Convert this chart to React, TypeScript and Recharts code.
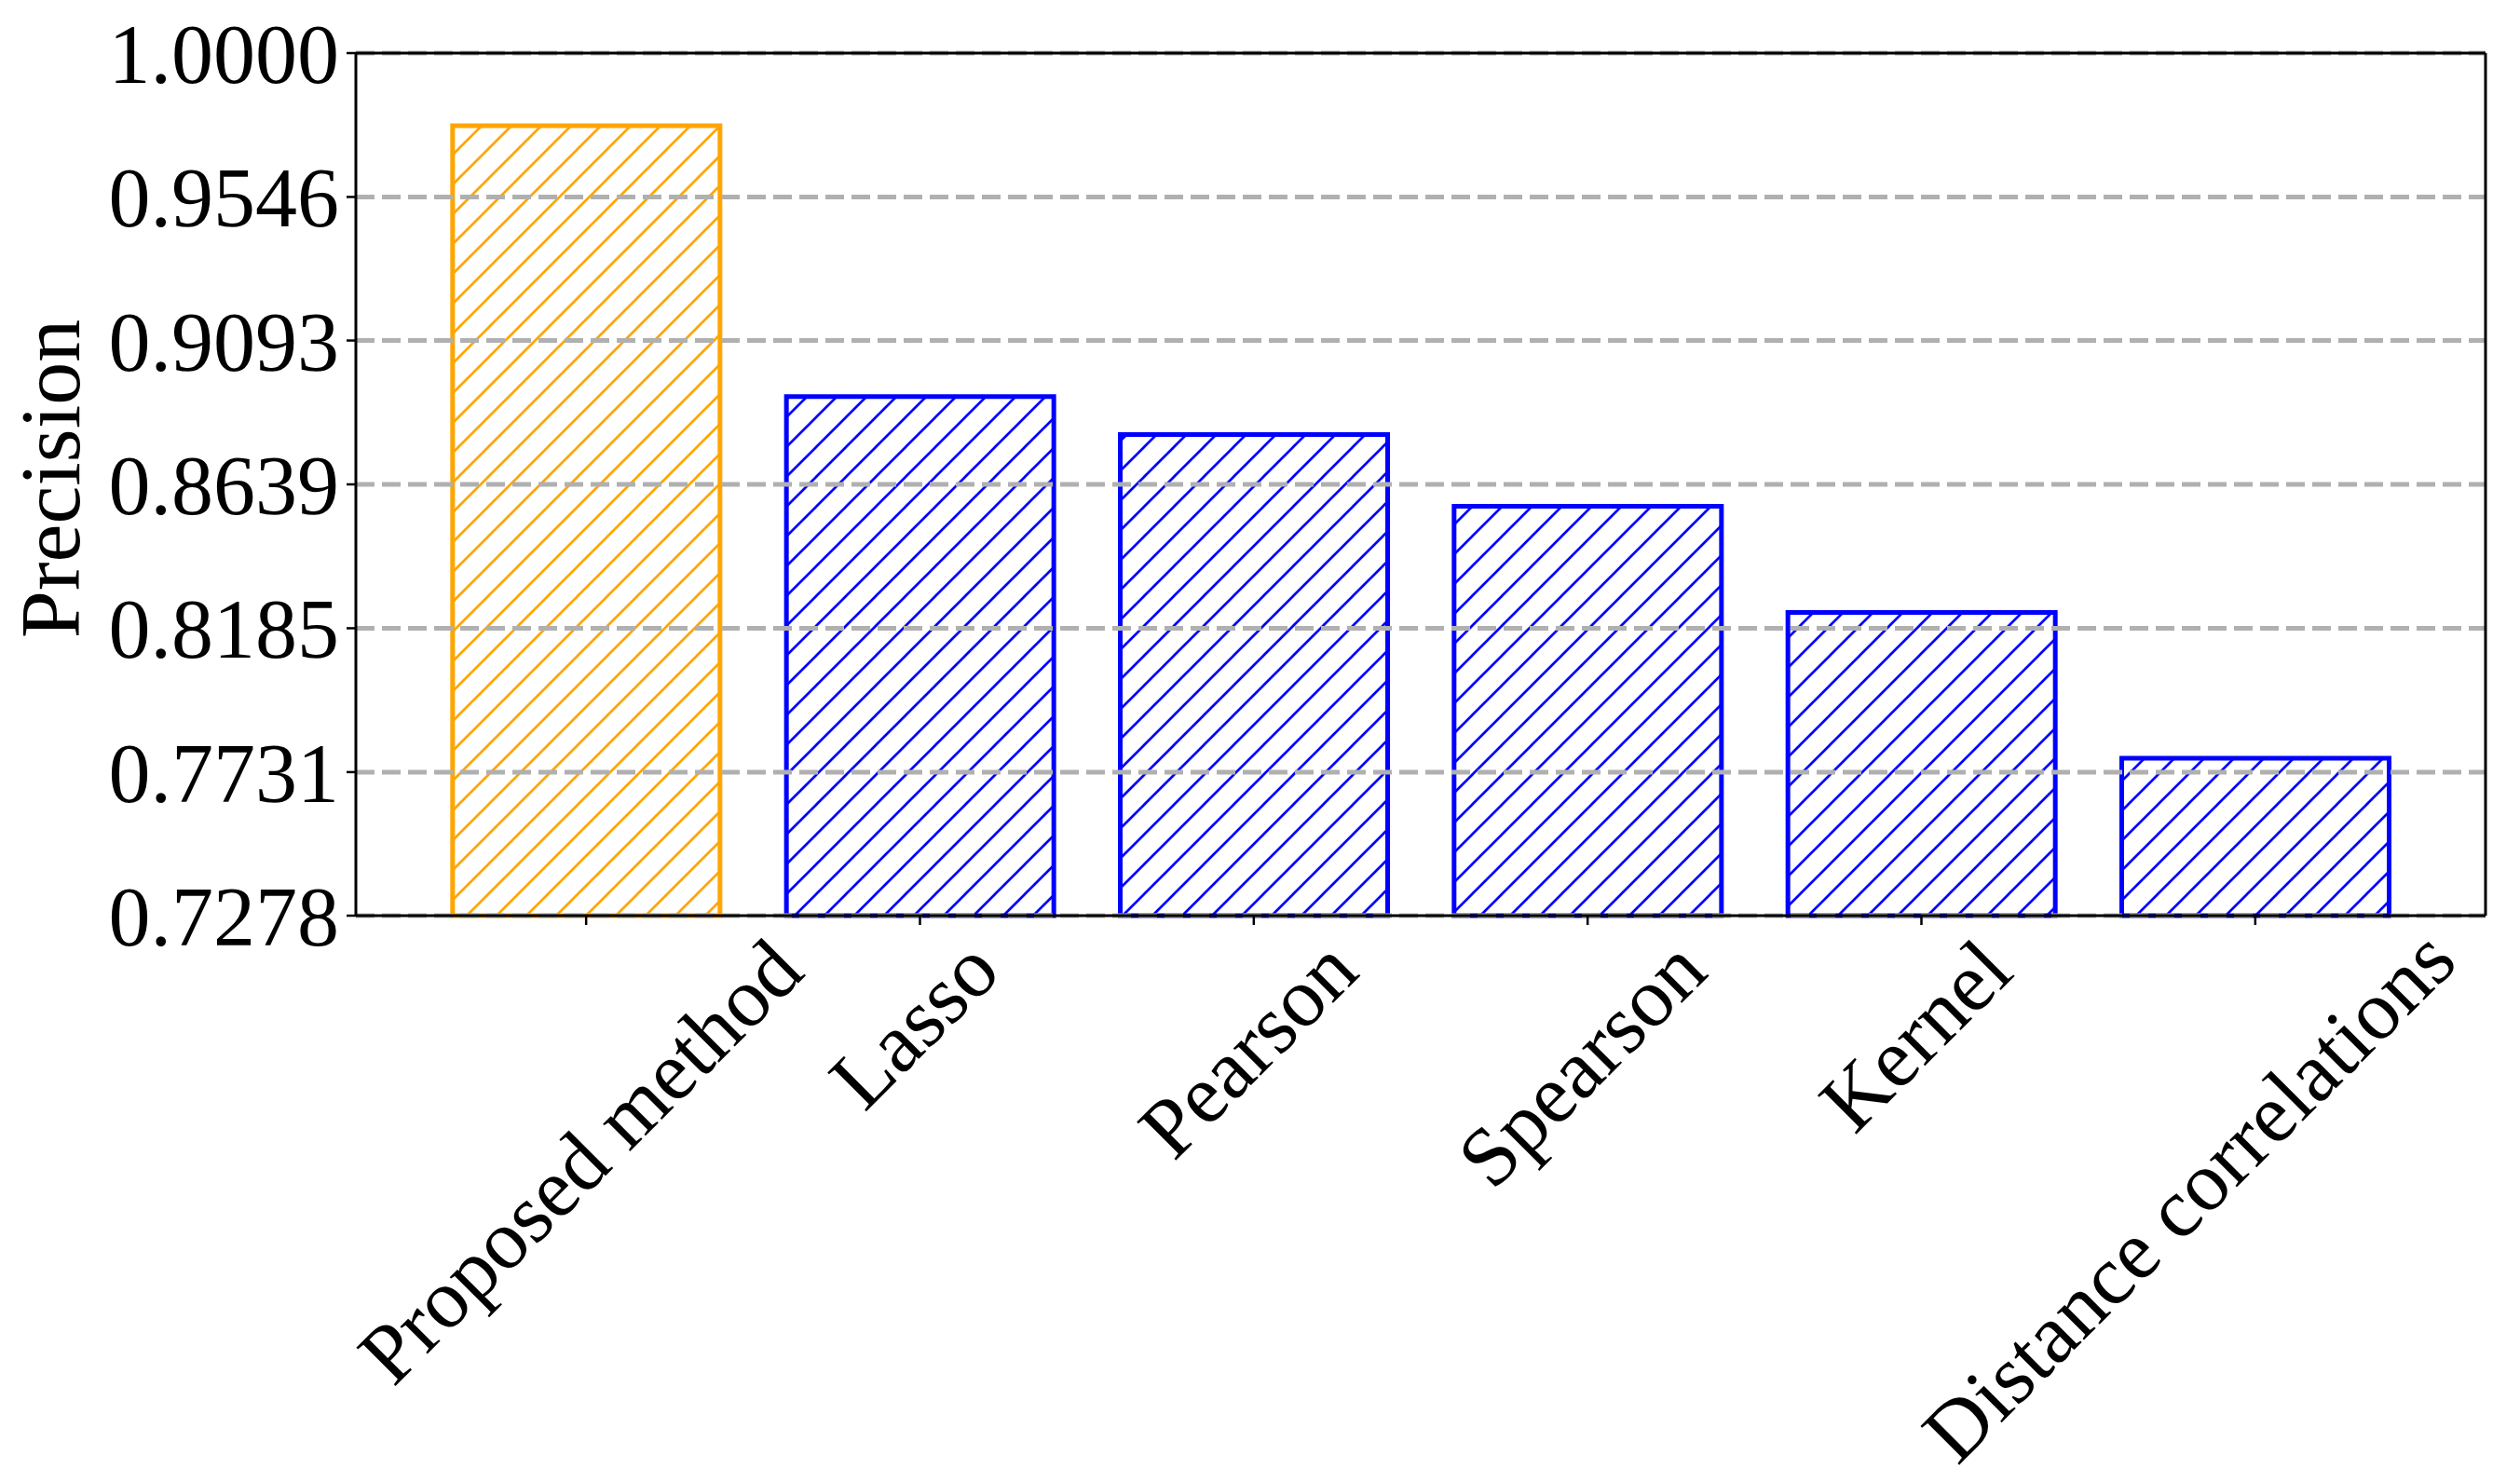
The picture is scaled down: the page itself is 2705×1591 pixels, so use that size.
import React from 'react';
import { BarChart, Bar, XAxis, YAxis, Cell, ReferenceLine } from 'recharts';

const categories = ['Proposed method', 'Lasso', 'Pearson', 'Spearson', 'Kernel', 'Distance correlations'];
const precision = [0.9771, 0.8916, 0.8796, 0.857, 0.8235, 0.7775];
const yTickLabels = ['0.7278', '0.7731', '0.8185', '0.8639', '0.9093', '0.9546', '1.0000'];
const highlighted = 'Proposed method';
const yLabel = 'Precision';

const W = 2705;
const H = 1591;
const FONT = '"Liberation Serif", "Times New Roman", Times, serif';
const FS = 90;
const ORANGE = '#FFA500';
const BLUE = '#0000FF';
const GRID = '#b0b0b0';

const data = categories.map((name, i) => ({ name, precision: precision[i] }));
const yTicks = yTickLabels.map(Number);

let ctx: CanvasRenderingContext2D | null = null;
function measure(s: string): number {
  if (!ctx) ctx = document.createElement('canvas').getContext('2d');
  if (!ctx) return s.length * FS * 0.45;
  ctx.font = `${FS}px ${FONT}`;
  return ctx.measureText(s).width;
}

// rotated (45 deg) label whose layout box is centred under the tick, kept inside the canvas
const XTick = (props: any) => {
  const { x, y, payload } = props;
  const s = String(payload.value);
  const L = measure(s);
  const c = Math.SQRT1_2;
  const half = (L / 2 + 0.45 * FS) * c;
  const maxX = W - 51 - half;
  const shift = Math.max(0, x - maxX);
  const cx = x - shift;
  const cy = y + half - shift * 0.17;
  return (
    <text
      x={cx}
      y={cy}
      dy={0.233 * FS}
      textAnchor="middle"
      transform={`rotate(-45 ${cx} ${cy})`}
      fontFamily={FONT}
      fontSize={FS}
      fill="#000"
    >
      {s}
    </text>
  );
};

const YLabel = (props: any) => {
  const vb = props.viewBox || { x: 0, y: 57, width: 382, height: 926 };
  const x = vb.x + 54;
  const y = vb.y + vb.height / 2 - 6;
  return (
    <text
      x={x}
      y={y}
      textAnchor="middle"
      dominantBaseline="central"
      transform={`rotate(-90 ${x} ${y})`}
      fontFamily={FONT}
      fontSize={92}
      fill="#000"
    >
      {yLabel}
    </text>
  );
};

const Hatch = ({ id, color }: { id: string; color: string }) => (
  <pattern id={id} patternUnits="userSpaceOnUse" width={32} height={32} patternTransform="translate(12,0)">
    <rect x={0} y={0} width={32} height={32} fill="#fff" />
    <path d="M-8,8 L8,-8 M0,32 L32,0 M24,40 L40,24" stroke={color} strokeWidth={2.7} />
  </pattern>
);

export default function App() {
  return (
    <div style={{ position: 'absolute', left: 0, top: 0, width: W, height: H, background: '#fff' }}>
      <svg width={0} height={0} style={{ position: 'absolute' }}>
        <defs>
          <Hatch id="hatch-orange" color={ORANGE} />
          <Hatch id="hatch-blue" color={BLUE} />
        </defs>
      </svg>
      <BarChart
        width={W}
        height={H}
        data={data}
        margin={{ top: 56, right: 36, bottom: 0, left: 0 }}
        barCategoryGap="10%"
      >
        <XAxis
          dataKey="name"
          type="category"
          height={608}
          interval={0}
          padding={{ left: 68, right: 68 }}
          tick={<XTick />}
          tickSize={10}
          tickMargin={10}
          tickLine={{ stroke: '#000', strokeWidth: 2.5 }}
          axisLine={{ stroke: '#000', strokeWidth: 3 }}
        />
        <XAxis
          xAxisId="top"
          dataKey="name"
          type="category"
          orientation="top"
          height={1}
          tick={false}
          tickLine={false}
          axisLine={{ stroke: '#000', strokeWidth: 3 }}
        />
        <YAxis
          type="number"
          domain={[yTicks[0], yTicks[yTicks.length - 1]]}
          ticks={yTicks}
          interval={0}
          width={382}
          tickFormatter={(v: number) => yTickLabels[yTicks.indexOf(v)] ?? v.toFixed(4)}
          tick={{ fontFamily: FONT, fontSize: FS, fill: '#000' }}
          tickSize={10}
          tickMargin={8}
          tickLine={{ stroke: '#000', strokeWidth: 2.5 }}
          axisLine={{ stroke: '#000', strokeWidth: 3 }}
          label={{ content: <YLabel /> }}
        />
        <YAxis
          yAxisId="right"
          type="number"
          orientation="right"
          domain={[yTicks[0], yTicks[yTicks.length - 1]]}
          width={1}
          tick={false}
          tickLine={false}
          axisLine={{ stroke: '#000', strokeWidth: 3 }}
        />
        <Bar dataKey="precision" isAnimationActive={false} strokeWidth={5}>
          {data.map((d) => (
            <Cell
              key={d.name}
              fill={d.name === highlighted ? 'url(#hatch-orange)' : 'url(#hatch-blue)'}
              stroke={d.name === highlighted ? ORANGE : BLUE}
            />
          ))}
        </Bar>
        {yTicks.map((t) => (
          <ReferenceLine key={t} y={t} stroke={GRID} strokeWidth={5} strokeDasharray="20 8" />
        ))}
      </BarChart>
    </div>
  );
}
